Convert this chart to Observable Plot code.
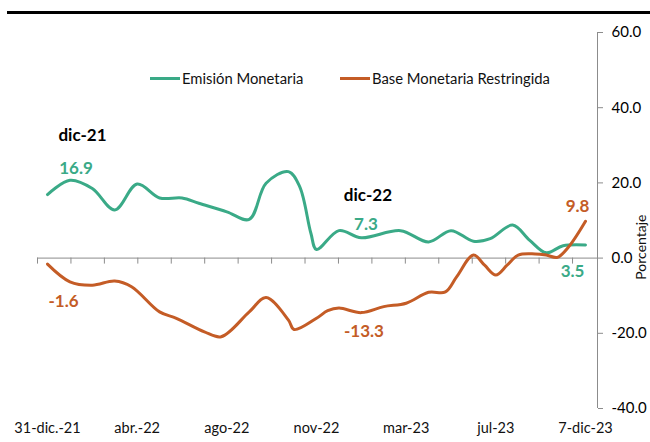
<!DOCTYPE html>
<html><head><meta charset="utf-8">
<script src="https://cdn.jsdelivr.net/npm/d3@7"></script>
<script src="https://cdn.jsdelivr.net/npm/@observablehq/plot@0.6"></script>
<style>
body{margin:0;background:#fff;font-family:Lato,"Open Sans",sans-serif;}
#wrap{position:relative;width:650px;height:442px;overflow:hidden;}
#topline{position:absolute;left:7px;top:11px;width:643px;height:3px;background:#000;}
.leg{position:absolute;top:70px;height:16px;line-height:16px;font-size:14.8px;color:#111;display:flex;align-items:center;white-space:nowrap;}
.leg .sw{display:inline-block;width:30px;height:3px;margin-right:2px;}
</style></head><body>
<div id="wrap"><div id="chart"></div><div id="topline"></div>
<div class="leg" style="left:150px"><span class="sw" id="sw0"></span><span id="lg0"></span></div>
<div class="leg" style="left:340px"><span class="sw" id="sw1"></span><span id="lg1"></span></div>
</div>
<script>
const seriesNames = ["Emisión Monetaria", "Base Monetaria Restringida"];
const emisionIdx = [0,4,8,12,16,20,24,27,32,36,39,43,45,47,48,52,56,63,68,72,76,79,83,86,89,92,96];
const emisionVal = [16.9,20.7,18.5,12.8,19.7,16.0,16.0,14.6,12.3,10.3,19.9,23.0,19.0,6.6,2.3,7.3,5.4,7.3,4.3,7.3,4.5,5.2,8.8,4.8,1.4,3.3,3.5];
const baseIdx = [0,4,8,12,15,20,23,28,31,36,39,43,44,48,50,52,56,60,64,68,71,73,76,78,80,82,84,87,89,91,93,96];
const baseVal = [-1.6,-6.3,-7.2,-6.1,-7.6,-14.3,-16.0,-19.6,-20.9,-14.3,-10.5,-16.5,-19.0,-16.0,-14.0,-13.3,-14.5,-12.9,-12.0,-9.1,-9.0,-5.0,0.8,-1.9,-4.5,-1.9,0.8,1.1,0.8,0.2,3.0,9.8];
const tickLabels = ["31-dic.-21","abr.-22","ago-22","nov-22","mar-23","jul-23","7-dic-23"];
const tickLabelIdx = [0,16,32,48,64,80,96];
const yTicks = [-40,-20,0,20,40,60];
const periodLabels = ["dic-21","dic-22"];
const periodIdx = [0,52];
const yLabel = "Porcentaje";

const GREEN = "#3aaa87", ORANGE = "#c45c26";
document.getElementById("sw0").style.background = GREEN;
document.getElementById("sw1").style.background = ORANGE;
document.getElementById("lg0").textContent = seriesNames[0];
document.getElementById("lg1").textContent = seriesNames[1];

const em = emisionIdx.map((x,i)=>({x, y: emisionVal[i]}));
const ba = baseIdx.map((x,i)=>({x, y: baseVal[i]}));
const pxPerUnit = 538/96;
const xDomain = [-10/pxPerUnit, 550/pxPerUnit];
const tickStep = 33.44/pxPerUnit;
const xTicks = d3.range(17).map(k => xDomain[0] + k*tickStep);

const pick = (arr, idx) => arr.find(d => d.x === idx);
const em0 = em[0], emL = em[em.length-1], ba0 = ba[0], baL = ba[ba.length-1];
const em1 = pick(em, periodIdx[1]), ba1 = pick(ba, periodIdx[1]);
const fmt = v => v.toFixed(1);
const lbl = (p, opts) => Plot.text([p], {x:"x", y:"y", text: d => fmt(d.y), fontWeight:"bold", fontSize:17, ...opts});

const chart = Plot.plot({
  width: 650, height: 442,
  marginLeft: 37, marginRight: 53, marginTop: 32, marginBottom: 34,
  style: {fontFamily: "Lato, 'Open Sans', sans-serif", background: "transparent"},
  x: {domain: xDomain, axis: null},
  y: {domain: [-40, 60], axis: null},
  marks: [
    Plot.ruleY([0], {stroke: "#8c8c8c", strokeWidth: 1}),
    Plot.ruleX(xTicks, {y1: 0, y2: -6/3.76, stroke: "#8c8c8c", strokeWidth: 1}),
    Plot.ruleX([xDomain[1]], {y1: -40, y2: 60, stroke: "#8c8c8c", strokeWidth: 1}),
    Plot.axisY({anchor: "right", ticks: yTicks, tickFormat: fmt, tickSize: 5, tickPadding: 9, fontSize: 15, stroke: "#8c8c8c", label: null}),
    Plot.text([yLabel], {frameAnchor: "right", rotate: -90, dx: 44, dy: -6, fontSize: 14, fill: "#111"}),
    Plot.text(tickLabels, {x: (d,i) => tickLabelIdx[i], frameAnchor: "bottom", dy: 24, fontSize: 14.5, fill: "#111"}),
    Plot.line(em, {x:"x", y:"y", stroke: GREEN, strokeWidth: 3, curve: "catmull-rom"}),
    Plot.line(ba, {x:"x", y:"y", stroke: ORANGE, strokeWidth: 3, curve: "catmull-rom"}),
    Plot.text([em0], {x:"x", y:"y", text: () => periodLabels[0], dx: 35, dy: -59.5, fontWeight:"bold", fontSize:17, fill:"#000"}),
    Plot.text([em1], {x:"x", y:"y", text: () => periodLabels[1], dx: 29, dy: -35.5, fontWeight:"bold", fontSize:17, fill:"#000"}),
    lbl(em0, {dx: 28.5, dy: -26.5, fill: GREEN}),
    lbl(em1, {dx: 27, dy: -6.5, fill: GREEN}),
    lbl(emL, {dx: -13, dy: 27, fill: GREEN}),
    lbl(ba0, {dx: 16, dy: 37.5, fill: ORANGE}),
    lbl(ba1, {dx: 25, dy: 23.5, fill: ORANGE}),
    lbl(baL, {dx: -8, dy: -15, fill: ORANGE})
  ]
});
document.getElementById("chart").appendChild(chart);
</script>
</body></html>
